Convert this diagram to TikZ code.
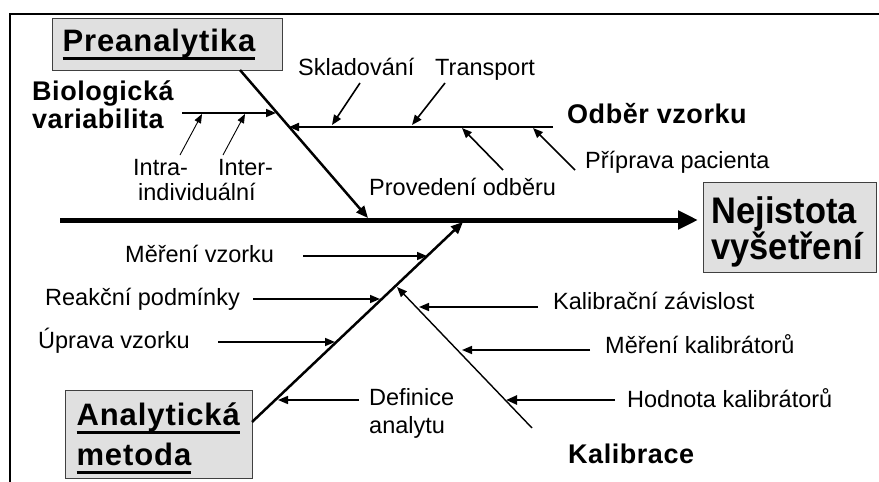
\documentclass[tikz,border=0pt]{standalone}
\usepackage{fontspec}
\usepackage{graphicx}
\setmainfont{Liberation Sans}
\usetikzlibrary{arrows.meta}
\definecolor{boxgray}{RGB}{224,224,224}
\newcommand\ulbox[1]{\leavevmode\setbox0\hbox{#1}\rlap{\rule[-8pt]{\wd0}{2.5pt}}\box0}
\newcommand\narrowtxt[1]{\scalebox{0.93}[1]{#1}}
\begin{document}
\begin{tikzpicture}[x=1pt,y=-1pt,
  lbl/.style={inner sep=0pt, anchor=base west, font=\fontsize{23.5}{26}\selectfont},
  blbl/.style={inner sep=0pt, anchor=base west, font=\fontsize{27}{30}\selectfont\bfseries\addfontfeature{LetterSpace=2}},
  hbox/.style={draw=black!75, fill=boxgray, line width=1pt, inner ysep=0pt, anchor=north west, align=left},
  arr/.style={line width=1.6pt, -{Triangle[length=10pt,width=8pt]}},
  thinarr/.style={line width=0.9pt, -{Triangle[length=9pt,width=7pt]}},
  bone/.style={line width=2.5pt, -{Triangle[length=12pt,width=10pt]}},
]
\useasboundingbox (0,0) rectangle (879,482);
\fill[white] (0,0) rectangle (879,482);
% frame
\draw[line width=2pt] (10,482) -- (10,14) -- (879,14);

% boxes
\node[hbox, minimum width=230pt, minimum height=52pt, text width=210pt, inner xsep=10pt,
      font=\fontsize{31}{34}\selectfont\bfseries\addfontfeature{LetterSpace=3}] (pre) at (52,18) {\ulbox{Preanalytika}};
\node[hbox, minimum width=173pt, minimum height=90pt, text width=157pt, inner xsep=8pt,
      font=\fontsize{37}{32}\selectfont\bfseries] (nej) at (703,182) {\rule{0pt}{36pt}\narrowtxt{Nejistota}\\\narrowtxt{vyšetření}};
\node[hbox, minimum width=187pt, minimum height=88pt, text width=165pt, inner xsep=11pt,
      font=\fontsize{31}{40}\selectfont\bfseries\addfontfeature{LetterSpace=3}] (ana) at (65,390) {\rule{0pt}{30pt}\ulbox{Analytická}\\\ulbox{metoda}};

% bold labels
\node[blbl] (bio1) at (32,100) {Biologická};
\node[blbl] (bio2) at (32,128) {variabilita};
\node[blbl] (odb) at (567,123) {Odběr vzorku};
\node[blbl] (kal) at (568,463) {Kalibrace};

% regular labels
\node[lbl] (skl) at (298,75) {Skladování};
\node[lbl] (tra) at (435,75) {Transport};
\node[lbl] (pro) at (369,195) {Provedení odběru};
\node[lbl] (pri) at (585,168) {Příprava pacienta};
\node[lbl] (intra) at (133,175) {Intra-};
\node[lbl] (inter) at (218,175) {Inter-};
\node[lbl] (indiv) at (138,200) {individuální};
\node[lbl] (mer) at (125,262) {Měření vzorku};
\node[lbl] (rea) at (45,305) {Reakční podmínky};
\node[lbl] (upr) at (38,348) {Úprava vzorku};
\node[lbl] (def1) at (369,405) {Definice};
\node[lbl] (def2) at (369,433) {analytu};
\node[lbl] (kz) at (553,309) {Kalibrační závislost};
\node[lbl] (mk) at (605,353) {Měření kalibrátorů};
\node[lbl] (hk) at (627,407) {Hodnota kalibrátorů};

% coordinates
\coordinate (sp0) at (60,220);
\coordinate (sp1) at (698,220);
\coordinate (pb0) at (240,70);
\coordinate (pb1) at (368,218);
\coordinate (ob0) at (553,127);
\coordinate (ob1) at (289,127);
\coordinate (skl0) at (360,83);  \coordinate (skl1) at (332,125);
\coordinate (tra0) at (445,83);  \coordinate (tra1) at (412,125);
\coordinate (pro0) at (503,170); \coordinate (pro1) at (462,128);
\coordinate (pri0) at (575,170); \coordinate (pri1) at (533,128);
\coordinate (bio0) at (182,113); \coordinate (biot) at (276,113);
\coordinate (intra0) at (180,155); \coordinate (intra1) at (202,114);
\coordinate (inter0) at (223,155); \coordinate (inter1) at (245,114);
\coordinate (ab0) at (252,422);  \coordinate (ab1) at (463,222);
\coordinate (mer0) at (303,256); \coordinate (mer1) at (427,256);
\coordinate (rea0) at (253,299); \coordinate (rea1) at (380,299);
\coordinate (upr0) at (218,342); \coordinate (upr1) at (335,342);
\coordinate (def0) at (359,400); \coordinate (defx) at (278,400);
\coordinate (kb0) at (532,428);  \coordinate (kb1) at (397,287);
\coordinate (kz0) at (538,307);  \coordinate (kz1) at (419,307);
\coordinate (mk0) at (590,350);  \coordinate (mk1) at (462,350);
\coordinate (hk0) at (615,400);  \coordinate (hk1) at (506,400);

% spine
\draw[line width=5pt, -{Triangle[length=20pt,width=18pt]}] (sp0) -- (sp1);
% upper part
\draw[bone] (pb0) -- (pb1);
\draw[line width=2pt, -{Triangle[length=10pt,width=8pt]}] (ob0) -- (ob1);
\draw[arr] (skl0) -- (skl1);
\draw[arr] (tra0) -- (tra1);
\draw[arr] (pro0) -- (pro1);
\draw[arr] (pri0) -- (pri1);
\draw[arr] (bio0) -- (biot);
\draw[thinarr] (intra0) -- (intra1);
\draw[thinarr] (inter0) -- (inter1);
% lower part
\draw[bone] (ab0) -- (ab1);
\draw[arr] (mer0) -- (mer1);
\draw[arr] (rea0) -- (rea1);
\draw[arr] (upr0) -- (upr1);
\draw[arr] (def0) -- (defx);
\draw[line width=1.4pt, -{Triangle[length=10pt,width=8pt]}] (kb0) -- (kb1);
\draw[arr] (kz0) -- (kz1);
\draw[arr] (mk0) -- (mk1);
\draw[line width=2.4pt, -{Triangle[length=11pt,width=9pt]}] (hk0) -- (hk1);
\end{tikzpicture}
\end{document}
